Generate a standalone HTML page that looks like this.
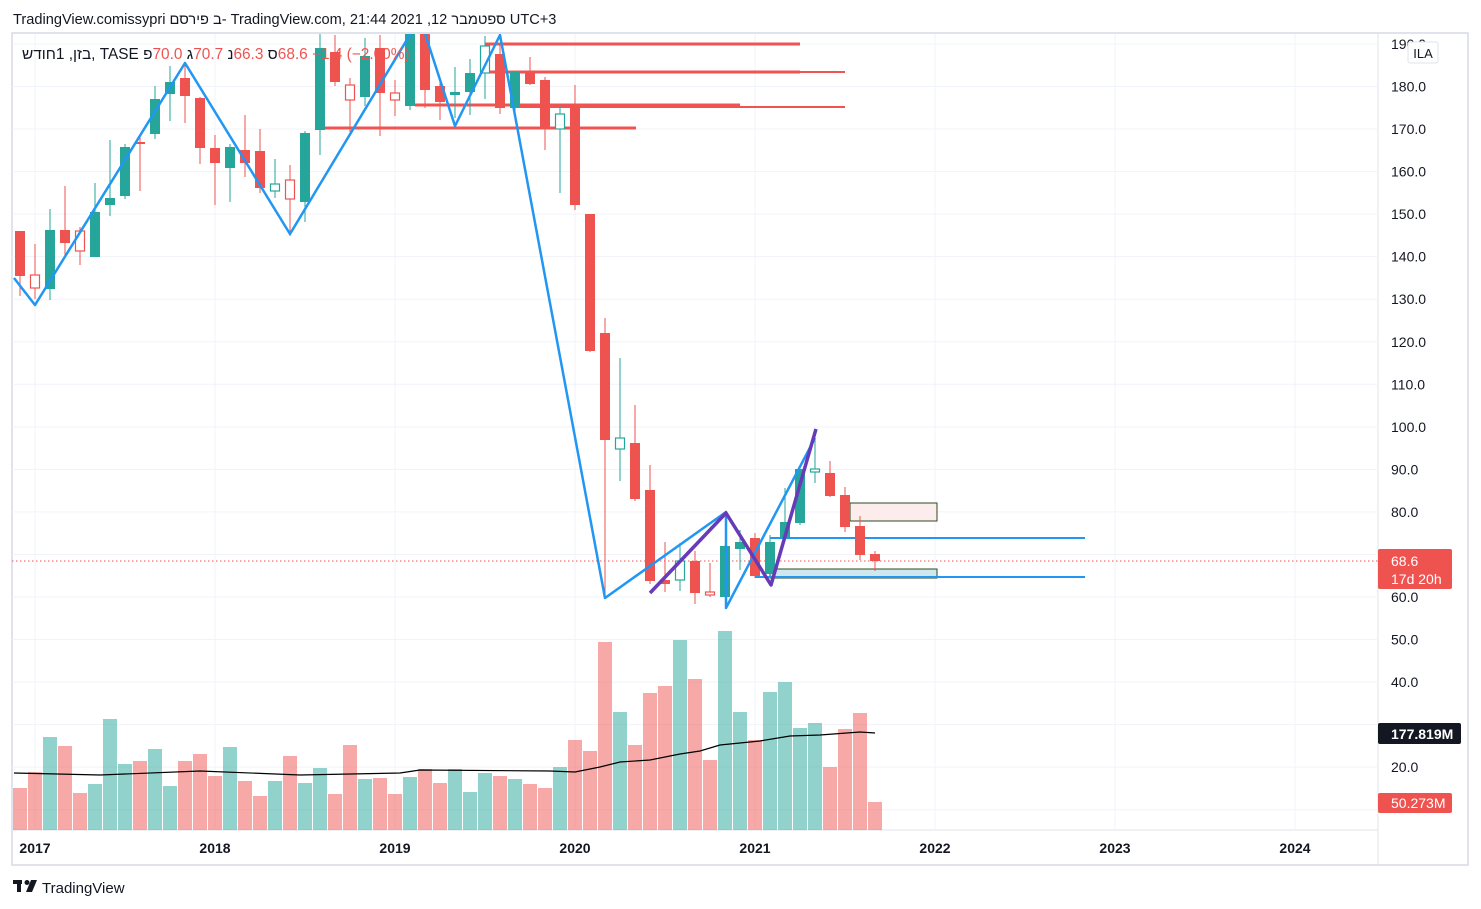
<!DOCTYPE html>
<html><head><meta charset="utf-8"><style>
body{margin:0;background:#fff;width:1481px;height:909px;overflow:hidden;font-family:"Liberation Sans","Noto Sans CJK SC",sans-serif}
svg{position:absolute;left:0;top:0}
.ov{unicode-bidi:bidi-override;direction:ltr}
</style></head><body>
<svg id="s" width="1481" height="909" xmlns="http://www.w3.org/2000/svg" font-family="Liberation Sans, sans-serif">
<rect x="12" y="33" width="1456" height="832" fill="none" stroke="#e0e3eb" stroke-width="2"/>
<line x1="1378" y1="34" x2="1378" y2="865" stroke="#e0e3eb"/>
<line x1="12" y1="830" x2="1378" y2="830" stroke="#e0e3eb"/>
<g id="grid" stroke="#f0f3fa" stroke-width="1"></g>
<g id="vol"></g>
<polyline fill="none" stroke="#000" stroke-width="1.2" points="14,773 100,775 200,771 300,775 400,773 420,770 550,771 575,772 600,767 620,762 650,760 680,754 700,751 720,745 760,741 790,736 820,735 860,732 875,733"/>
<g id="lines">
<line x1="485" y1="44" x2="800" y2="44" stroke="#f05350" stroke-width="3"/>
<line x1="485" y1="72" x2="800" y2="72" stroke="#f05350" stroke-width="3"/>
<line x1="515" y1="72" x2="845" y2="72" stroke="#f05350" stroke-width="2"/>
<line x1="415" y1="105" x2="740" y2="105" stroke="#f05350" stroke-width="3"/>
<line x1="515" y1="107" x2="845" y2="107" stroke="#f05350" stroke-width="2"/>
<line x1="325" y1="128" x2="636" y2="128" stroke="#f05350" stroke-width="3"/>
<rect x="850" y="503" width="87" height="18" fill="#fdecec" stroke="#2c4a1c" stroke-width="1"/>
<rect x="770" y="569" width="167" height="9" fill="#cfe7ef" stroke="#2c4a1c" stroke-width="1"/>
<line x1="770" y1="538" x2="1085" y2="538" stroke="#2196f3" stroke-width="2"/>
<line x1="755" y1="577" x2="1085" y2="577" stroke="#2196f3" stroke-width="2"/>
<line x1="12" y1="561" x2="1378" y2="561" stroke="#ef5350" stroke-width="1" stroke-dasharray="1.5,2.5"/>
</g>
<g id="cand"></g>
<clipPath id="cp"><rect x="12" y="34" width="1366" height="796"/></clipPath>
<g clip-path="url(#cp)" fill="none" stroke-linejoin="round">
<polyline stroke="#2196f3" stroke-width="2.5" points="14,278 35,305 185,63 290,234 420,18 455,126 500,35 605,598 726,512 726,608 815,438"/>
<polyline stroke="#673ab7" stroke-width="3.5" points="650,593 726,513 771,585 816,429"/>
</g>
<g id="ylab" font-size="14" fill="#131722"></g>
<rect x="1408" y="42" width="30" height="21" rx="2" fill="#fff" stroke="#e0e3eb"/>
<text x="1423" y="58" font-size="13" fill="#131722" text-anchor="middle">ILA</text>
<rect x="1378" y="549" width="74" height="40" rx="2" fill="#ef5350"/>
<text x="1391" y="566" font-size="14" fill="#fff">68.6</text>
<text x="1391" y="584" font-size="14" fill="#fff">17d 20h</text>
<rect x="1378" y="723" width="83" height="21" rx="2" fill="#131722"/>
<text x="1391" y="739" font-size="14" fill="#fff" font-weight="bold">177.819M</text>
<rect x="1378" y="793" width="74" height="20" rx="2" fill="#ef5350"/>
<text x="1391" y="808" font-size="14" fill="#fff">50.273M</text>
<g font-size="14" fill="#131722" font-weight="bold" text-anchor="middle">
<text x="35" y="853">2017</text><text x="215" y="853">2018</text><text x="395" y="853">2019</text><text x="575" y="853">2020</text><text x="755" y="853">2021</text><text x="935" y="853">2022</text><text x="1115" y="853">2023</text><text x="1295" y="853">2024</text>
</g>
<text x="13" y="24" font-size="14.6" fill="#131722" font-family="Liberation Sans, Noto Sans CJK SC, sans-serif">TradingView.comissypri ב פירסם- TradingView.com, 21:44 2021 ,12 ספטמבר UTC+3</text>
<text class="ov" x="22" y="59" font-size="15.4" font-family="Liberation Sans, Noto Sans CJK SC, sans-serif"><tspan class="ov" fill="#131722">שדוח1 ,ןזב, TASE  פ</tspan><tspan class="ov" fill="#ef5350">70.0 </tspan><tspan class="ov" fill="#131722">ג</tspan><tspan class="ov" fill="#ef5350">70.7 </tspan><tspan class="ov" fill="#131722">נ</tspan><tspan class="ov" fill="#ef5350">66.3 </tspan><tspan class="ov" fill="#131722">ס</tspan><tspan class="ov" fill="#ef5350">68.6 −1.4 (−2.00%)</tspan></text>
<g transform="translate(13,880)" fill="#131722"><rect x="0" y="0" width="9" height="4"/><rect x="4" y="0" width="4" height="12"/><circle cx="14" cy="2.5" r="2.5"/><polygon points="18,0 24,0 19,12 13,12"/></g>
<text x="42" y="893" font-size="15" fill="#131722">TradingView</text>
</svg>
<script>
var NS="http://www.w3.org/2000/svg";
function el(p,t,a){var e=document.createElementNS(NS,t);for(var k in a)e.setAttribute(k,a[k]);document.getElementById(p).appendChild(e);return e;}
for(var v=60;v<=190;v+=10){var y=597-(v-60)*4.254;el("grid","line",{x1:12,x2:1378,y1:y,y2:y});}
[50,40,30,20,10].forEach(function(v){var y=597+(60-v)*4.254;el("grid","line",{x1:12,x2:1378,y1:y,y2:y});});
for(var i=0;i<8;i++){var x=35+180*i;el("grid","line",{x1:x,x2:x,y1:34,y2:830});}
for(var v=190;v>=10;v-=10){var y=597-(v-60)*4.254;if(v==70||v==30||v==10)continue;var t=el("ylab","text",{x:1391,y:y+5});t.textContent=v.toFixed(1);}
var G="#26a69a",R="#ef5350";
var d=[
["r",231,276,231,296,788],["hr",275,288,244,299,772],["g",230,289,209,300,737],["r",230,243,186,256,746],["hr",231,251,227,265,793],
["g",212,257,183,257,784],["g",198,205,140,216,719],["g",147,196,144,199,764],["r",142,144,136,191,761],["g",99,134,86,139,749],
["g",82,94,66,121,786],["r",78,96,64,123,761],["r",98,148,97,164,754],["r",148,163,135,205,776],["g",147,168,144,202,747],
["r",150,163,115,177,781],["r",151,188,129,193,796],["hg",184,191,159,198,781],["hr",180,199,165,236,756],["g",133,202,131,222,783],
["g",48,130,34,155,768],["r",52,82,35,86,794],["hr",85,100,78,132,745],["g",56,97,38,106,779],["r",48,93,35,136,778],
["hr",93,100,80,116,794],["g",34,106,34,110,777],["r",34,90,34,108,769],["r",86,102,78,120,783],["g",92,95,67,118,769],
["g",73,92,59,115,792],["hg",46,73,36,99,773],["r",54,108,44,114,776],["g",72,108,72,116,779],["r",73,84,57,85,784],
["r",80,129,77,150,788],["hg",114,129,106,193,767],["r",107,205,85,210,740],["r",214,351,214,352,751],["r",333,440,318,598,642],
["hg",438,449,358,481,712],["r",443,499,405,501,745],["r",490,581,465,584,693],["r",580,584,542,592,686],["hg",561,580,543,591,640],
["r",561,593,551,604,679],["hr",592,595,563,597,760],["g",546,597,545,597,631],["g",542,549,530,570,712],["r",538,576,533,578,740],
["g",542,574,535,574,692],["g",522,538,488,541,682],["g",469,523,469,525,728],["hg",469,472,440,483,723],["r",473,496,461,497,767],
["r",495,527,487,532,729],["r",526,555,516,560,713],["r",554,561,551,571,802]];
d.forEach(function(c,i){var x=20+15*i;var col=c[0].indexOf("g")>=0?G:R;var hol=c[0][0]=="h";
el("vol","rect",{x:x-7,y:c[5],width:14,height:830-c[5],fill:col,"fill-opacity":0.5});
el("cand","line",{x1:x,x2:x,y1:c[3],y2:c[4],stroke:col,"stroke-width":1});
var h=Math.max(c[2]-c[1],1.5);
if(hol)el("cand","rect",{x:x-4.5,y:c[1],width:9,height:h,fill:"#fff",stroke:col,"stroke-width":1.2});
else el("cand","rect",{x:x-5,y:c[1],width:10,height:h,fill:col});});
</script>
</body></html>
